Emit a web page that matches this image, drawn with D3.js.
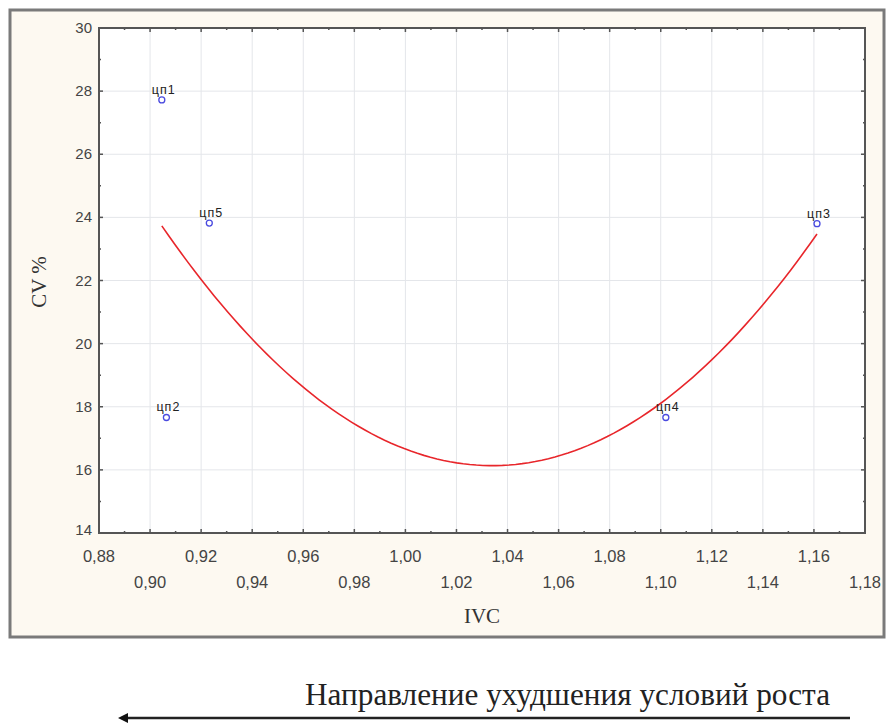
<!DOCTYPE html>
<html>
<head>
<meta charset="utf-8">
<script src="https://cdn.jsdelivr.net/npm/d3@7"></script>
<style>
  body { margin: 0; background: #fff; }
  svg { display: block; }
</style>
</head>
<body>
<div id="chart"></div>
<script>
// Scatter of stands: IVC vs CV %
const labels = ['цп1', 'цп2', 'цп5', 'цп4', 'цп3'];
const ivc = [0.9046, 0.9064, 0.9232, 1.1020, 1.1612];
const cv = [27.72, 17.66, 23.82, 17.66, 23.80];
const xTicks = [0.88, 0.90, 0.92, 0.94, 0.96, 0.98, 1.00, 1.02, 1.04, 1.06, 1.08, 1.10, 1.12, 1.14, 1.16, 1.18];
const yTicks = [14, 16, 18, 20, 22, 24, 26, 28, 30];

const width = 892, height = 727;
const plot = { left: 99, top: 28, right: 865, bottom: 533 };

const svg = d3.select('#chart').append('svg')
  .attr('width', width)
  .attr('height', height);

// outer panel
svg.append('rect')
  .attr('x', 10).attr('y', 10)
  .attr('width', 874).attr('height', 627)
  .attr('fill', '#fdf9f1')
  .attr('stroke', '#7a7a7a')
  .attr('stroke-width', 3);

svg.append('rect')
  .attr('x', plot.left).attr('y', plot.top)
  .attr('width', plot.right - plot.left).attr('height', plot.bottom - plot.top)
  .attr('fill', '#fff');

const x = d3.scaleLinear().domain([0.88, 1.18]).range([plot.left, plot.right]);
const y = d3.scaleLinear().domain([14, 30]).range([plot.bottom, plot.top]);

// grid
const grid = svg.append('g').attr('stroke', '#e4e6ea').attr('stroke-width', 1);
grid.selectAll('.vx').data(xTicks.slice(1, -1)).enter().append('line')
  .attr('x1', d => x(d)).attr('x2', d => x(d))
  .attr('y1', plot.top).attr('y2', plot.bottom);
grid.selectAll('.hy').data(yTicks.slice(1, -1)).enter().append('line')
  .attr('x1', plot.left).attr('x2', plot.right)
  .attr('y1', d => y(d)).attr('y2', d => y(d));

// least-squares quadratic fit through the points
function quadFit(xs, ys) {
  const n = xs.length;
  let s = [0, 0, 0, 0, 0], t = [0, 0, 0];
  for (let i = 0; i < n; i++) {
    const u = xs[i] - 1;
    for (let k = 0; k < 5; k++) s[k] += Math.pow(u, k);
    for (let k = 0; k < 3; k++) t[k] += ys[i] * Math.pow(u, k);
  }
  const M = [[s[0], s[1], s[2], t[0]], [s[1], s[2], s[3], t[1]], [s[2], s[3], s[4], t[2]]];
  for (let i = 0; i < 3; i++) {
    for (let j = i + 1; j < 3; j++) {
      const f = M[j][i] / M[i][i];
      for (let k = i; k < 4; k++) M[j][k] -= f * M[i][k];
    }
  }
  const c = [0, 0, 0];
  for (let i = 2; i >= 0; i--) {
    let v = M[i][3];
    for (let k = i + 1; k < 3; k++) v -= M[i][k] * c[k];
    c[i] = v / M[i][i];
  }
  return xv => c[0] + c[1] * (xv - 1) + c[2] * (xv - 1) * (xv - 1);
}
const fit = quadFit(ivc, cv);
const xs = d3.range(0, 101).map(i => d3.min(ivc) + (d3.max(ivc) - d3.min(ivc)) * i / 100);
svg.append('path')
  .datum(xs)
  .attr('fill', 'none')
  .attr('stroke', '#e8262b')
  .attr('stroke-width', 1.6)
  .attr('d', d3.line().x(d => x(d)).y(d => y(fit(d))));

// frame + ticks
svg.append('rect')
  .attr('x', plot.left).attr('y', plot.top)
  .attr('width', plot.right - plot.left).attr('height', plot.bottom - plot.top)
  .attr('fill', 'none')
  .attr('stroke', '#555')
  .attr('stroke-width', 2);

const xMinor = d3.range(0.89, 1.18, 0.02);
const yMinor = d3.range(15, 30, 2);
const tk = svg.append('g').attr('stroke', '#555').attr('stroke-width', 1.5);
function xt(vals, len) {
  vals.forEach(v => {
    tk.append('line').attr('x1', x(v)).attr('x2', x(v)).attr('y1', plot.bottom).attr('y2', plot.bottom - len);
    tk.append('line').attr('x1', x(v)).attr('x2', x(v)).attr('y1', plot.top).attr('y2', plot.top + len);
  });
}
function yt(vals, len) {
  vals.forEach(v => {
    tk.append('line').attr('y1', y(v)).attr('y2', y(v)).attr('x1', plot.left).attr('x2', plot.left + len);
    tk.append('line').attr('y1', y(v)).attr('y2', y(v)).attr('x1', plot.right).attr('x2', plot.right - len);
  });
}
xt(xTicks.slice(1, -1), 4); xt(xMinor, 2);
yt(yTicks.slice(1, -1), 4); yt(yMinor, 2);

// tick labels
const fmt = d => d3.format('.2f')(d).replace('.', ',');
svg.append('g').selectAll('text').data(xTicks).enter().append('text')
  .attr('x', d => x(d))
  .attr('y', (d, i) => i % 2 === 0 ? 562 : 588)
  .attr('text-anchor', 'middle')
  .attr('font-family', 'Liberation Sans, Arial, sans-serif')
  .attr('font-size', 16.5)
  .attr('fill', '#444')
  .text(fmt);
svg.append('g').selectAll('text').data(yTicks).enter().append('text')
  .attr('x', 92)
  .attr('y', d => d === 14 ? y(d) + 2 : y(d) + 5)
  .attr('text-anchor', 'end')
  .attr('font-family', 'Liberation Sans, Arial, sans-serif')
  .attr('font-size', 15)
  .attr('fill', '#444')
  .text(d => d);

// axis titles
svg.append('text')
  .attr('x', 482).attr('y', 623)
  .attr('text-anchor', 'middle')
  .attr('font-family', 'Liberation Serif, Times New Roman, serif')
  .attr('font-size', 21)
  .attr('fill', '#333')
  .text('IVC');
svg.append('text')
  .attr('transform', 'translate(46,282) rotate(-90)')
  .attr('text-anchor', 'middle')
  .attr('font-family', 'Liberation Serif, Times New Roman, serif')
  .attr('font-size', 21)
  .attr('fill', '#333')
  .text('CV %');

// points
const pts = labels.map((l, i) => ({ label: l, x: ivc[i], y: cv[i] }));
svg.append('g').selectAll('circle').data(pts).enter().append('circle')
  .attr('cx', d => x(d.x)).attr('cy', d => y(d.y))
  .attr('r', 3)
  .attr('fill', 'none')
  .attr('stroke', '#4a4adf')
  .attr('stroke-width', 1.3);
svg.append('g').selectAll('text').data(pts).enter().append('text')
  .attr('x', d => x(d.x) + 2).attr('y', d => y(d.y) - 6)
  .attr('text-anchor', 'middle')
  .attr('font-family', 'Liberation Sans, Arial, sans-serif')
  .attr('font-size', 12.5)
  .attr('letter-spacing', 1)
  .attr('fill', '#222')
  .text(d => d.label);

// direction arrow below chart
svg.append('defs').append('marker')
  .attr('id', 'ah')
  .attr('viewBox', '0 0 10 10')
  .attr('refX', 1).attr('refY', 5)
  .attr('markerWidth', 5).attr('markerHeight', 4)
  .attr('markerUnits', 'strokeWidth')
  .attr('orient', 'auto-start-reverse')
  .append('path').attr('d', 'M0,0 L10,5 L0,10 z').attr('fill', '#111');
svg.append('line')
  .attr('x1', 850).attr('x2', 127)
  .attr('y1', 718).attr('y2', 718)
  .attr('stroke', '#222')
  .attr('stroke-width', 2.5)
  .attr('marker-end', 'url(#ah)');
svg.append('text')
  .attr('x', 305).attr('y', 705)
  .attr('font-family', 'Liberation Serif, Times New Roman, serif')
  .attr('font-size', 31)
  .attr('fill', '#222')
  .attr('textLength', 525)
  .attr('lengthAdjust', 'spacingAndGlyphs')
  .text('Направление ухудшения условий роста');
</script>
</body>
</html>
